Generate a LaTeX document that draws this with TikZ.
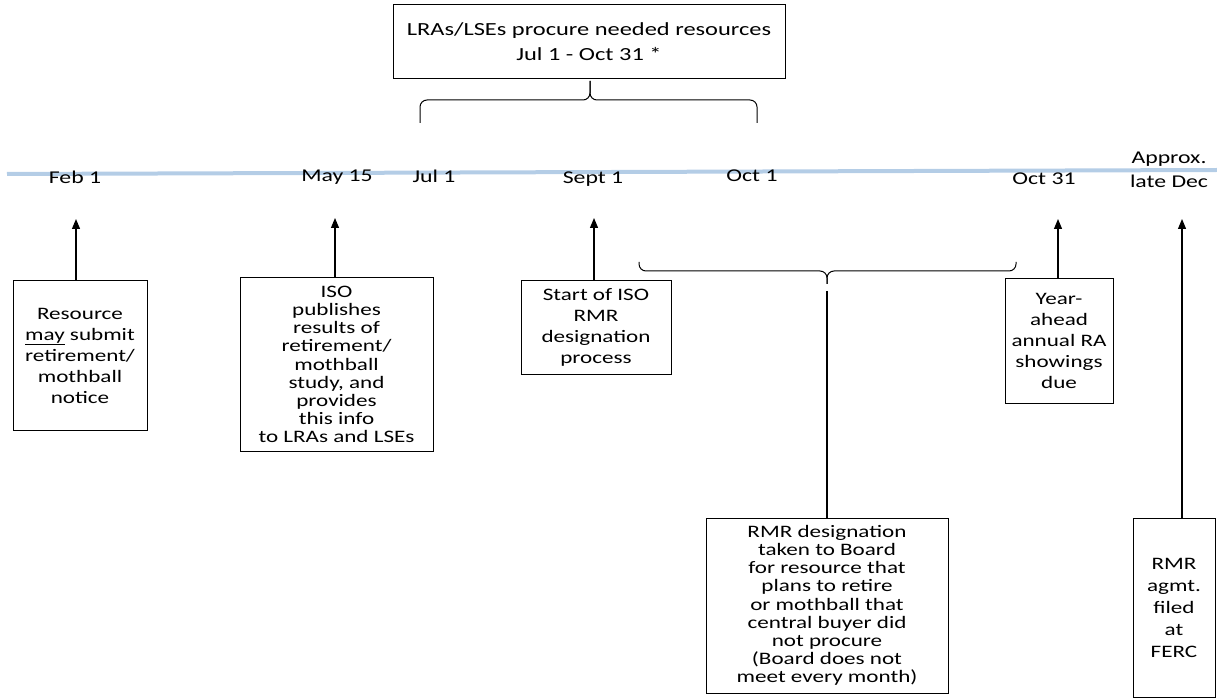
\documentclass[tikz,border=0pt]{standalone}
\usepackage{fontspec}
\setmainfont{Carlito}[FakeStretch=1.32]
\usetikzlibrary{arrows.meta}
\begin{document}
\begin{tikzpicture}[x=1pt,y=-1pt,
  box/.style={draw=black,line width=1pt,align=center,inner sep=2pt,font=\fontsize{17.5}{21}\selectfont},
  tightbox/.style={box,font=\fontsize{17.5}{18.2}\selectfont},
  datelbl/.style={inner sep=0pt,font=\fontsize{18}{21}\selectfont},
  arr/.style={line width=1.2pt,-{Triangle[width=8pt,length=10pt]}},
  brc/.style={line width=1pt,rounded corners=7pt},
  tline/.style={line width=4pt,color=tlblue}]
\definecolor{tlblue}{HTML}{B4CDE6}
\useasboundingbox (0,0) rectangle (1217,700);
% timeline
\coordinate (tl0) at (7,174);
\coordinate (tl1) at (1217,170);
\draw[tline] (tl0) -- (tl1);
% date labels
\node[datelbl] (feb) at (75,177) {Feb 1};
\node[datelbl] (may) at (337,177) {May 15};
\node[datelbl] (jul) at (434,176) {Jul 1};
\node[datelbl] (sep) at (593,179) {Sept 1};
\node[datelbl] (oct1) at (752,176) {Oct 1};
\node[datelbl] (oct31) at (1044,179) {Oct 31};
\node[datelbl,align=center,font=\fontsize{18}{24}\selectfont] (dec) at (1169,170) {Approx.\\late Dec};
% top box
\node[box,minimum width=392pt,minimum height=74pt,font=\fontsize{18.5}{25}\selectfont] (top) at (589,42) {LRAs/LSEs procure needed resources\\Jul 1 - Oct 31 *};
% top brace
\coordinate (tb1) at (420,123);
\coordinate (tb2) at (757,123);
\coordinate (tbc) at (590,81);
\draw[brc] (tb1) -- (420,100) -- (590,100) -- (tbc);
\draw[brc] (tb2) -- (757,100) -- (590,100) -- (tbc);
% boxes
\node[box,minimum width=134pt,minimum height=149pt] (b1) at (80,355.5) {Resource\\\underline{may} submit\\retirement/\\mothball\\notice};
\node[tightbox,minimum width=193pt,minimum height=173pt] (b2) at (336.5,364.5) {ISO\\publishes\\results of\\retirement/\\mothball\\study, and\\provides\\this info\\to LRAs and LSEs};
\node[box,minimum width=150pt,minimum height=93pt] (b3) at (596,327.5) {Start of ISO\\RMR\\designation\\process};
\node[box,minimum width=108pt,minimum height=124pt] (b4) at (1059,341) {Year-\\ahead\\annual RA\\showings\\due};
\node[tightbox,minimum width=242pt,minimum height=175pt] (b5) at (827,605.5) {RMR designation\\taken to Board\\for resource that\\plans to retire\\or mothball that\\central buyer did\\not procure\\(Board does not\\meet every month)};
\node[box,minimum width=82pt,minimum height=179pt,font=\fontsize{17.5}{22}\selectfont] (b6) at (1174,607.5) {RMR\\agmt.\\filed\\at\\FERC};
% arrows
\coordinate (t1) at (76,219);
\coordinate (t2) at (335,218);
\coordinate (t3) at (594,218);
\coordinate (t4) at (1058,219);
\coordinate (t5) at (1182,219);
\draw[arr] (b1.north -| t1) -- (t1);
\draw[arr] (b2.north -| t2) -- (t2);
\draw[arr] (b3.north -| t3) -- (t3);
\draw[arr] (b4.north -| t4) -- (t4);
\draw[arr] (b6.north -| t5) -- (t5);
% bottom brace
\coordinate (bb1) at (639,262);
\coordinate (bb2) at (1016,262);
\coordinate (bbc) at (827,284);
\draw[brc] (bb1) -- (639,271) -- (827,271) -- (bbc);
\draw[brc] (bb2) -- (1016,271) -- (827,271) -- (bbc);
\coordinate (bl) at (827,291);
\draw[line width=1.2pt] (bl) -- (b5.north);
\end{tikzpicture}
\end{document}
